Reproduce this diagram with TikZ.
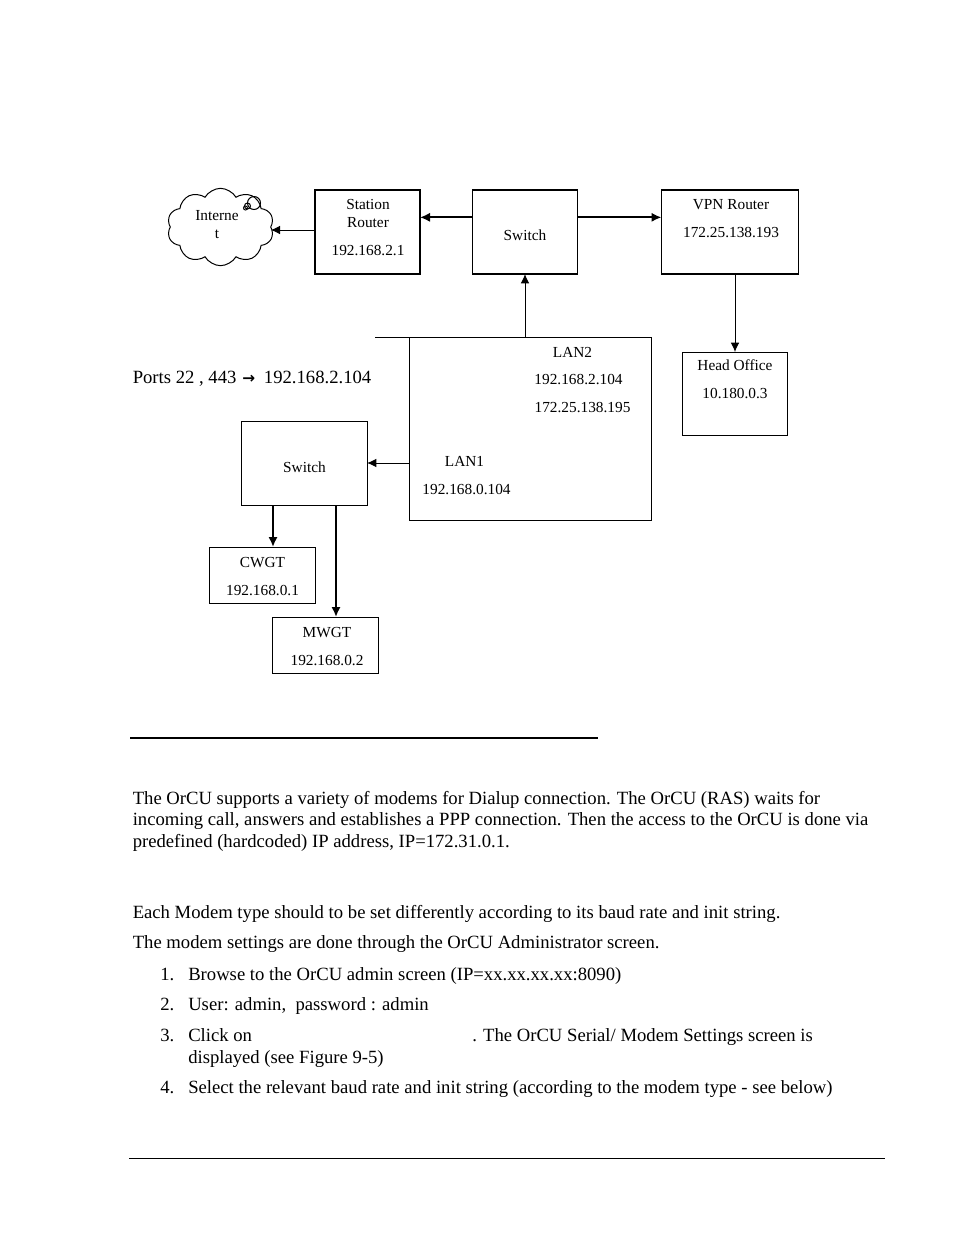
\documentclass[tikz,border=0pt]{standalone}
\usepackage{fontspec}
\usepackage{tikz}
\usetikzlibrary{shapes.symbols,arrows.meta}
\setmainfont{Liberation Serif}
\newfontfamily\arrowfont{DejaVu Sans}

\tikzset{
    box/.style 2 args={draw, line width=0.75pt, outer sep=0pt, inner sep=0pt,
                       minimum width=#1*0.75pt, minimum height=#2*0.75pt},
    heavybox/.style={line width=1.4pt},
    lbl/.style={align=center, inner sep=0pt, font=\fontsize{11.5}{13.5}\selectfont},
    para/.style={anchor=base west, inner sep=0pt, font=\fontsize{14}{16}\selectfont},
    link/.style={-{Latex[length=7pt,width=6.5pt]}, line width=0.75pt},
    heavylink/.style={-{Latex[length=7.5pt,width=7pt]}, line width=1.5pt}
}

\begin{document}
\begin{tikzpicture}[x=0.75pt, y=-0.75pt]
    \useasboundingbox (0,0) rectangle (954,1235);

    % top row
    \node[cloud, draw, line width=0.75pt, cloud puffs=10, cloud puff arc=120, aspect=1.3,
          inner sep=0pt, outer sep=0pt, minimum width=80pt, minimum height=58pt] (cloud) at (220.5,227) {};
    \node[lbl] (cloudtext) at (217,224.5) {Interne\\t};
    \draw[line width=0.75pt] (254,203) circle [radius=6.5];
    \draw[line width=0.75pt] (247.5,206) circle [radius=3];
    \draw[line width=0.75pt] (245.5,208) circle [radius=2];

    \node[box={105}{84}, heavybox] (station) at (367.5,232) {};
    \node[lbl] (stationname) at (368,213.5) {Station\\Router};
    \node[lbl] (stationip) at (368,250.5) {192.168.2.1};

    \node[box={105}{84}, heavybox] (swtop) at (525,232) {};
    \node[lbl] (swtopname) at (525,235.5) {Switch};
    \node[box={137}{84}, heavybox] (vpn) at (730,232) {};
    \node[lbl] (vpnname) at (731,204.5) {VPN Router};
    \node[lbl] (vpnip) at (731,232.5) {172.25.138.193};

    \node[box={105}{83}] (head) at (735,393.5) {};
    \node[lbl] (headname) at (735,365.5) {Head Office};
    \node[lbl] (headip) at (735,393.5) {10.180.0.3};

    % main box
    \node[box={242}{183}] (lan) at (530,428.5) {};
    \coordinate (lanstub) at (375,337);
    \draw[line width=0.75pt] (lanstub) -- (lan.north west);
    \node[lbl] (lan2name) at (572.5,352.5) {LAN2};
    \node[lbl] (lan2ipa) at (578.5,379.5) {192.168.2.104};
    \node[lbl] (lan2ipb) at (582.5,407.5) {172.25.138.195};
    \node[lbl] (lan1name) at (464.5,461.5) {LAN1};
    \node[lbl] (lan1ip) at (466.5,489.5) {192.168.0.104};
    \node[para] (ports) at (132.5,383.5) {Ports 22 , 443\kern1pt{} {\arrowfont\bfseries\fontsize{11.5}{13}\selectfont →}\kern3pt{} 192.168.2.104};

    % bottom group
    \node[box={126}{84}] (swlow) at (304,463) {};
    \node[lbl] (swlowname) at (304.5,467.5) {Switch};
    \node[box={106}{56}] (cwgt) at (262,575) {};
    \node[lbl] (cwgtname) at (262.5,562.5) {CWGT};
    \node[lbl] (cwgtip) at (262.5,590.5) {192.168.0.1};
    \node[box={106}{56}] (mwgt) at (325,645) {};
    \node[lbl] (mwgtname) at (327,632.5) {MWGT};
    \node[lbl] (mwgtip) at (327,660.5) {192.168.0.2};

    % connectors
    \draw[link] ([yshift=1.5pt]station.west) -- ([yshift=1.5pt]station.west -| cloud.east);
    \draw[heavylink] ([yshift=11pt]swtop.west) -- ([yshift=11pt]station.east);
    \draw[heavylink] ([yshift=11pt]swtop.east) -- ([yshift=11pt]vpn.west);
    \draw[link] (lan.north -| swtop) -- (swtop.south);
    \draw[link] (vpn.south -| head) -- (head.north);
    \draw[link] (lan.west |- swlow) -- (swlow.east);
    \draw[heavylink] (swlow.south -| 273,0) -- (cwgt.north -| 273,0);
    \draw[heavylink] (swlow.south -| 336,0) -- (mwgt.north -| 336,0);

    % rules
    \draw[line width=1.4pt] (130,738) -- (597.5,738);
    \draw[line width=0.6pt] (129,1158) -- (885,1158);

    % page text
    \node[para] (body1) at (132.5,804) {The OrCU supports a variety of modems for Dialup connection. The OrCU (RAS) waits for};
    \node[para] (body2) at (132.5,825) {incoming call, answers and establishes a PPP connection. Then the access to the OrCU is done via};
    \node[para] (body3) at (132.5,847) {predefined (hardcoded) IP address, IP=172.31.0.1.};
    \node[para] (body4) at (132.5,918) {Each Modem type should to be set differently according to its baud rate and init string.};
    \node[para] (body5) at (132.5,948) {The modem settings are done through the OrCU Administrator screen.};
    \node[para] (num1) at (160,980) {1.};
    \node[para] (item1) at (188,980) {Browse to the OrCU admin screen (IP=xx.xx.xx.xx:8090)};
    \node[para] (num2) at (160,1010) {2.};
    \node[para] (item2) at (188,1010) {User: admin,\ \ password : admin};
    \node[para] (num3) at (160,1041) {3.};
    \node[para] (item3a) at (188,1041) {Click on};
    \node[para] (item3b) at (472,1041) {. The OrCU Serial/ Modem Settings screen is};
    \node[para] (item3c) at (188,1063) {displayed (see Figure 9-5)};
    \node[para] (num4) at (160,1093) {4.};
    \node[para] (item4) at (188,1093) {Select the relevant baud rate and init string (according to the modem type - see below)};
\end{tikzpicture}
\end{document}
